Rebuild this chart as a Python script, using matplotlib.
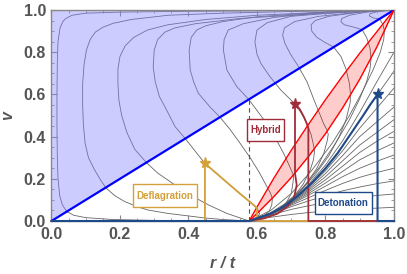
import matplotlib.pyplot as plt
from matplotlib.patches import Rectangle
from matplotlib.ticker import MultipleLocator

plt.rcParams['font.family'] = ['Liberation Sans', 'DejaVu Sans']

cs = 0.577

# red band: shock line and sound-speed curve
band_x = [0.577, 0.6, 0.65, 0.7, 0.75, 0.8, 0.85, 0.9, 0.95, 1.0]
shock_v = [0.0, 0.066, 0.205, 0.335, 0.457, 0.575, 0.687, 0.795, 0.897, 1.0]
sound_v = [0.0, 0.035, 0.117, 0.206, 0.305, 0.414, 0.536, 0.672, 0.825, 1.0]

# grey solution curves, upper family (x, v)
curve_A = [(1.0, 1.0), (0.7, 0.997), (0.4, 0.994), (0.2, 0.99), (0.1, 0.985), (0.06, 0.975),
           (0.042, 0.96), (0.033, 0.945), (0.025, 0.915), (0.019, 0.85), (0.017, 0.75),
           (0.016, 0.6), (0.016, 0.45), (0.017, 0.3), (0.019, 0.2), (0.024, 0.12),
           (0.032, 0.075), (0.045, 0.045), (0.065, 0.027), (0.1, 0.016), (0.18, 0.007),
           (0.3, 0.003), (0.45, 0.001), (0.577, 0.0)]
curve_B = [(1.0, 1.0), (0.7, 0.993), (0.5, 0.985), (0.34, 0.975), (0.233, 0.955), (0.18, 0.937),
           (0.15, 0.918), (0.128, 0.895), (0.113, 0.86), (0.102, 0.81), (0.095, 0.74),
           (0.091, 0.65), (0.091, 0.55), (0.093, 0.46), (0.098, 0.37), (0.108, 0.3),
           (0.126, 0.242), (0.145, 0.19), (0.16, 0.155), (0.185, 0.12), (0.214, 0.092),
           (0.25, 0.068), (0.282, 0.052), (0.34, 0.036), (0.4, 0.024), (0.45, 0.014),
           (0.5, 0.007), (0.577, 0.0)]
curve_C = [(1.0, 1.0), (0.8, 0.99), (0.6, 0.975), (0.45, 0.955), (0.34, 0.93), (0.28, 0.905),
           (0.24, 0.87), (0.215, 0.83), (0.2, 0.78), (0.194, 0.72), (0.194, 0.65),
           (0.197, 0.57), (0.205, 0.5), (0.22, 0.42), (0.243, 0.34), (0.277, 0.277),
           (0.311, 0.226), (0.34, 0.194), (0.37, 0.16), (0.414, 0.115), (0.46, 0.075),
           (0.512, 0.036), (0.577, 0.0)]
curve_D = [(1.0, 1.0), (0.75, 0.98), (0.55, 0.96), (0.42, 0.935), (0.36, 0.915), (0.331, 0.895),
           (0.31, 0.86), (0.3, 0.81), (0.297, 0.73), (0.303, 0.66), (0.315, 0.59),
           (0.331, 0.542), (0.361, 0.447), (0.39, 0.392), (0.42, 0.33), (0.448, 0.273),
           (0.5, 0.2), (0.55, 0.13), (0.58, 0.09), (0.6, 0.06), (0.608, 0.035),
           (0.6, 0.015), (0.577, 0.0)]
curve_E = [(1.0, 1.0), (0.8, 0.99), (0.6, 0.968), (0.5, 0.945), (0.45, 0.925), (0.424, 0.905),
           (0.408, 0.87), (0.402, 0.81), (0.405, 0.716), (0.415, 0.66), (0.429, 0.605),
           (0.463, 0.54), (0.492, 0.492), (0.521, 0.435), (0.55, 0.37), (0.58, 0.3),
           (0.605, 0.235), (0.625, 0.175), (0.64, 0.13), (0.645, 0.105), (0.643, 0.075),
           (0.635, 0.045), (0.615, 0.018), (0.577, 0.0)]
curve_F = [(1.0, 1.0), (0.8, 0.99), (0.65, 0.965), (0.56, 0.935), (0.516, 0.905), (0.504, 0.86),
           (0.502, 0.81), (0.512, 0.716), (0.541, 0.637), (0.575, 0.578), (0.599, 0.526),
           (0.628, 0.463), (0.655, 0.39), (0.678, 0.32), (0.695, 0.26), (0.707, 0.215),
           (0.705, 0.18), (0.7, 0.13), (0.685, 0.085), (0.66, 0.048), (0.625, 0.018),
           (0.577, 0.0)]
curve_G = [(1.0, 1.0), (0.85, 0.99), (0.7, 0.97), (0.63, 0.94), (0.6, 0.905), (0.594, 0.85),
           (0.6, 0.79), (0.612, 0.745), (0.638, 0.684), (0.67, 0.62), (0.711, 0.555),
           (0.73, 0.51), (0.745, 0.465), (0.758, 0.41), (0.765, 0.36), (0.768, 0.33),
           (0.765, 0.29), (0.755, 0.24), (0.735, 0.175), (0.705, 0.11), (0.67, 0.06),
           (0.63, 0.025), (0.577, 0.0)]
curve_H = [(1.0, 1.0), (0.9, 0.99), (0.78, 0.97), (0.71, 0.945), (0.68, 0.915), (0.675, 0.88),
           (0.682, 0.84), (0.698, 0.79), (0.72, 0.735), (0.746, 0.66), (0.765, 0.58),
           (0.78, 0.52), (0.795, 0.46), (0.805, 0.43), (0.808, 0.41), (0.805, 0.38),
           (0.795, 0.32), (0.775, 0.25), (0.745, 0.18), (0.71, 0.115), (0.67, 0.06),
           (0.625, 0.022), (0.577, 0.0)]
curve_I = [(1.0, 1.0), (0.9, 0.99), (0.81, 0.97), (0.77, 0.95), (0.758, 0.93), (0.76, 0.9),
           (0.775, 0.87), (0.8, 0.845), (0.824, 0.824), (0.845, 0.78), (0.86, 0.72),
           (0.87, 0.65), (0.873, 0.6), (0.872, 0.56), (0.86, 0.48), (0.84, 0.4),
           (0.81, 0.31), (0.77, 0.22), (0.72, 0.13), (0.67, 0.065), (0.62, 0.022), (0.577, 0.0)]
curve_J = [(1.0, 1.0), (0.92, 0.99), (0.87, 0.975), (0.848, 0.96), (0.845, 0.945), (0.855, 0.93),
           (0.88, 0.92), (0.907, 0.907), (0.92, 0.87), (0.93, 0.82), (0.933, 0.77),
           (0.93, 0.72), (0.92, 0.66), (0.9, 0.58), (0.87, 0.48), (0.83, 0.37), (0.78, 0.25),
           (0.73, 0.15), (0.68, 0.08), (0.63, 0.03), (0.577, 0.0)]
curve_K = [(1.0, 1.0), (0.95, 0.992), (0.93, 0.982), (0.928, 0.972), (0.94, 0.962),
           (0.958, 0.958), (0.968, 0.93), (0.972, 0.9), (0.97, 0.86), (0.96, 0.8),
           (0.94, 0.72), (0.91, 0.62), (0.87, 0.5), (0.82, 0.37), (0.76, 0.24), (0.7, 0.13),
           (0.64, 0.05), (0.577, 0.0)]
upper_curves = [curve_A, curve_B, curve_C, curve_D, curve_E, curve_F,
                curve_G, curve_H, curve_I, curve_J, curve_K]

# grey fan from (cs, 0) to the right edge
fan_x = [0.577, 0.6, 0.65, 0.7, 0.75, 0.8, 0.85, 0.9, 0.95, 1.0]
fan_v = [
    [0.0, 0.009, 0.02, 0.031, 0.04, 0.047, 0.053, 0.058, 0.061, 0.065],
    [0.0, 0.013, 0.033, 0.055, 0.072, 0.087, 0.101, 0.112, 0.121, 0.128],
    [0.0, 0.014, 0.037, 0.068, 0.095, 0.12, 0.143, 0.161, 0.177, 0.19],
    [0.0, 0.014, 0.039, 0.075, 0.11, 0.145, 0.178, 0.207, 0.23, 0.25],
    [0.0, 0.014, 0.04, 0.08, 0.122, 0.165, 0.21, 0.25, 0.283, 0.313],
    [0.0, 0.014, 0.041, 0.084, 0.13, 0.18, 0.235, 0.29, 0.332, 0.37],
    [0.0, 0.014, 0.041, 0.087, 0.138, 0.195, 0.26, 0.325, 0.378, 0.425],
    [0.0, 0.014, 0.041, 0.089, 0.145, 0.21, 0.285, 0.36, 0.42, 0.48],
    [0.0, 0.014, 0.041, 0.091, 0.152, 0.225, 0.31, 0.4, 0.47, 0.54],
    [0.0, 0.014, 0.042, 0.093, 0.158, 0.238, 0.333, 0.44, 0.535, 0.63],
    [0.0, 0.014, 0.042, 0.095, 0.165, 0.25, 0.355, 0.475, 0.595, 0.71],
    [0.0, 0.015, 0.043, 0.098, 0.172, 0.265, 0.38, 0.515, 0.66, 0.8],
]

# wall profiles
defl_x = [0.0, 0.448, 0.448, 0.5, 0.55, 0.58, 0.59, 0.6, 0.6, 1.0]
defl_v = [0.0, 0.0, 0.273, 0.2, 0.13, 0.09, 0.076, 0.062, 0.0, 0.0]
hyb_x = [0.0, 0.577, 0.62, 0.66, 0.69, 0.708, 0.716, 0.711, 0.711, 0.725, 0.738, 0.747, 0.75, 0.75, 1.0]
hyb_v = [0.0, 0.0, 0.012, 0.035, 0.07, 0.11, 0.17, 0.227, 0.555, 0.53, 0.49, 0.455, 0.44, 0.0, 0.0]
det_x = [0.0, 0.577, 0.64, 0.68, 0.72, 0.76, 0.8, 0.835, 0.86, 0.885, 0.91, 0.93, 0.952, 0.952, 1.0]
det_v = [0.0, 0.0, 0.035, 0.07, 0.12, 0.18, 0.25, 0.32, 0.38, 0.44, 0.5, 0.55, 0.6, 0.0, 0.0]
stars = {'defl': (0.448, 0.273), 'hyb': (0.711, 0.555), 'det': (0.952, 0.6)}

gold = '#D4A03A'
dred = '#A02C3A'
navy = '#1F4A8A'
grey_txt = '#555555'

fig = plt.figure(figsize=(4.07, 2.74), dpi=100)
ax = fig.add_axes([0.1265, 0.1934, 0.8415, 0.7701])

for c in upper_curves:
    ax.plot([p[0] for p in c], [p[1] for p in c], color='#666666', lw=0.6, zorder=1)
for fv in fan_v:
    ax.plot(fan_x, fv, color='#666666', lw=0.6, zorder=1)

# shaded region above v = r/t
ax.fill_between([0, 1], [0, 1], [1, 1], color=(0.5, 0.5, 1.0), alpha=0.4, lw=0, zorder=2)
ax.plot([0, 1], [0, 1], color='#0000FF', lw=1.6, zorder=4)

# red band
ax.fill_between(band_x, sound_v, shock_v, color='red', alpha=0.2, lw=0, zorder=2)
ax.plot(band_x, shock_v, color='#FF0000', lw=1.0, zorder=4)
ax.plot(band_x, sound_v, color='#FF0000', lw=1.0, zorder=4)

# dashed line at the sound speed
ax.plot([cs, cs], [0, cs], color='#555555', lw=0.8, ls=(0, (4, 3)), zorder=3)

ax.plot(defl_x, defl_v, color=gold, lw=1.3, zorder=5, clip_on=False)
ax.plot(hyb_x, hyb_v, color=dred, lw=1.3, zorder=6, clip_on=False)
ax.plot(det_x, det_v, color=navy, lw=1.5, zorder=7, clip_on=False)
for key, col in [('defl', gold), ('hyb', dred), ('det', navy)]:
    ax.plot(*stars[key], marker='*', ms=8, color=col, zorder=8)

# label boxes
boxes = [('Deflagration', 0.238, 0.067, 0.186, 0.107, gold),
         ('Hybrid', 0.570, 0.377, 0.110, 0.105, dred),
         ('Detonation', 0.769, 0.034, 0.166, 0.105, navy)]
for txt, bx, by, bw, bh, col in boxes:
    ax.add_patch(Rectangle((bx, by), bw, bh, fc='white', ec=col, lw=1.0, zorder=9))
    ax.text(bx + bw / 2, by + bh / 2, txt, color=col, fontsize=7, fontweight='bold',
            ha='center', va='center', zorder=10)

ax.set_xlim(0, 1)
ax.set_ylim(0, 1)
ax.xaxis.set_major_locator(MultipleLocator(0.2))
ax.yaxis.set_major_locator(MultipleLocator(0.2))
ax.xaxis.set_minor_locator(MultipleLocator(0.05))
ax.yaxis.set_minor_locator(MultipleLocator(0.05))
ax.tick_params(which='both', direction='in', top=True, right=True, colors='#888888',
               labelcolor=grey_txt, labelsize=11.5, pad=4)
ax.tick_params(which='major', length=4, width=0.8)
ax.tick_params(which='minor', length=2, width=0.6)
for lab in ax.get_xticklabels() + ax.get_yticklabels():
    lab.set_fontweight('bold')
for sp in ax.spines.values():
    sp.set_color('#888888')
    sp.set_linewidth(1.0)

ax.set_xlabel('r / t', fontsize=11.5, fontweight='bold', style='italic', color=grey_txt)
ax.set_ylabel('v', fontsize=11.5, fontweight='bold', style='italic', color=grey_txt)
ax.xaxis.set_label_coords(0.5, -0.165)
ax.yaxis.set_label_coords(-0.105, 0.5)

fig.savefig('out.png', dpi=100)
